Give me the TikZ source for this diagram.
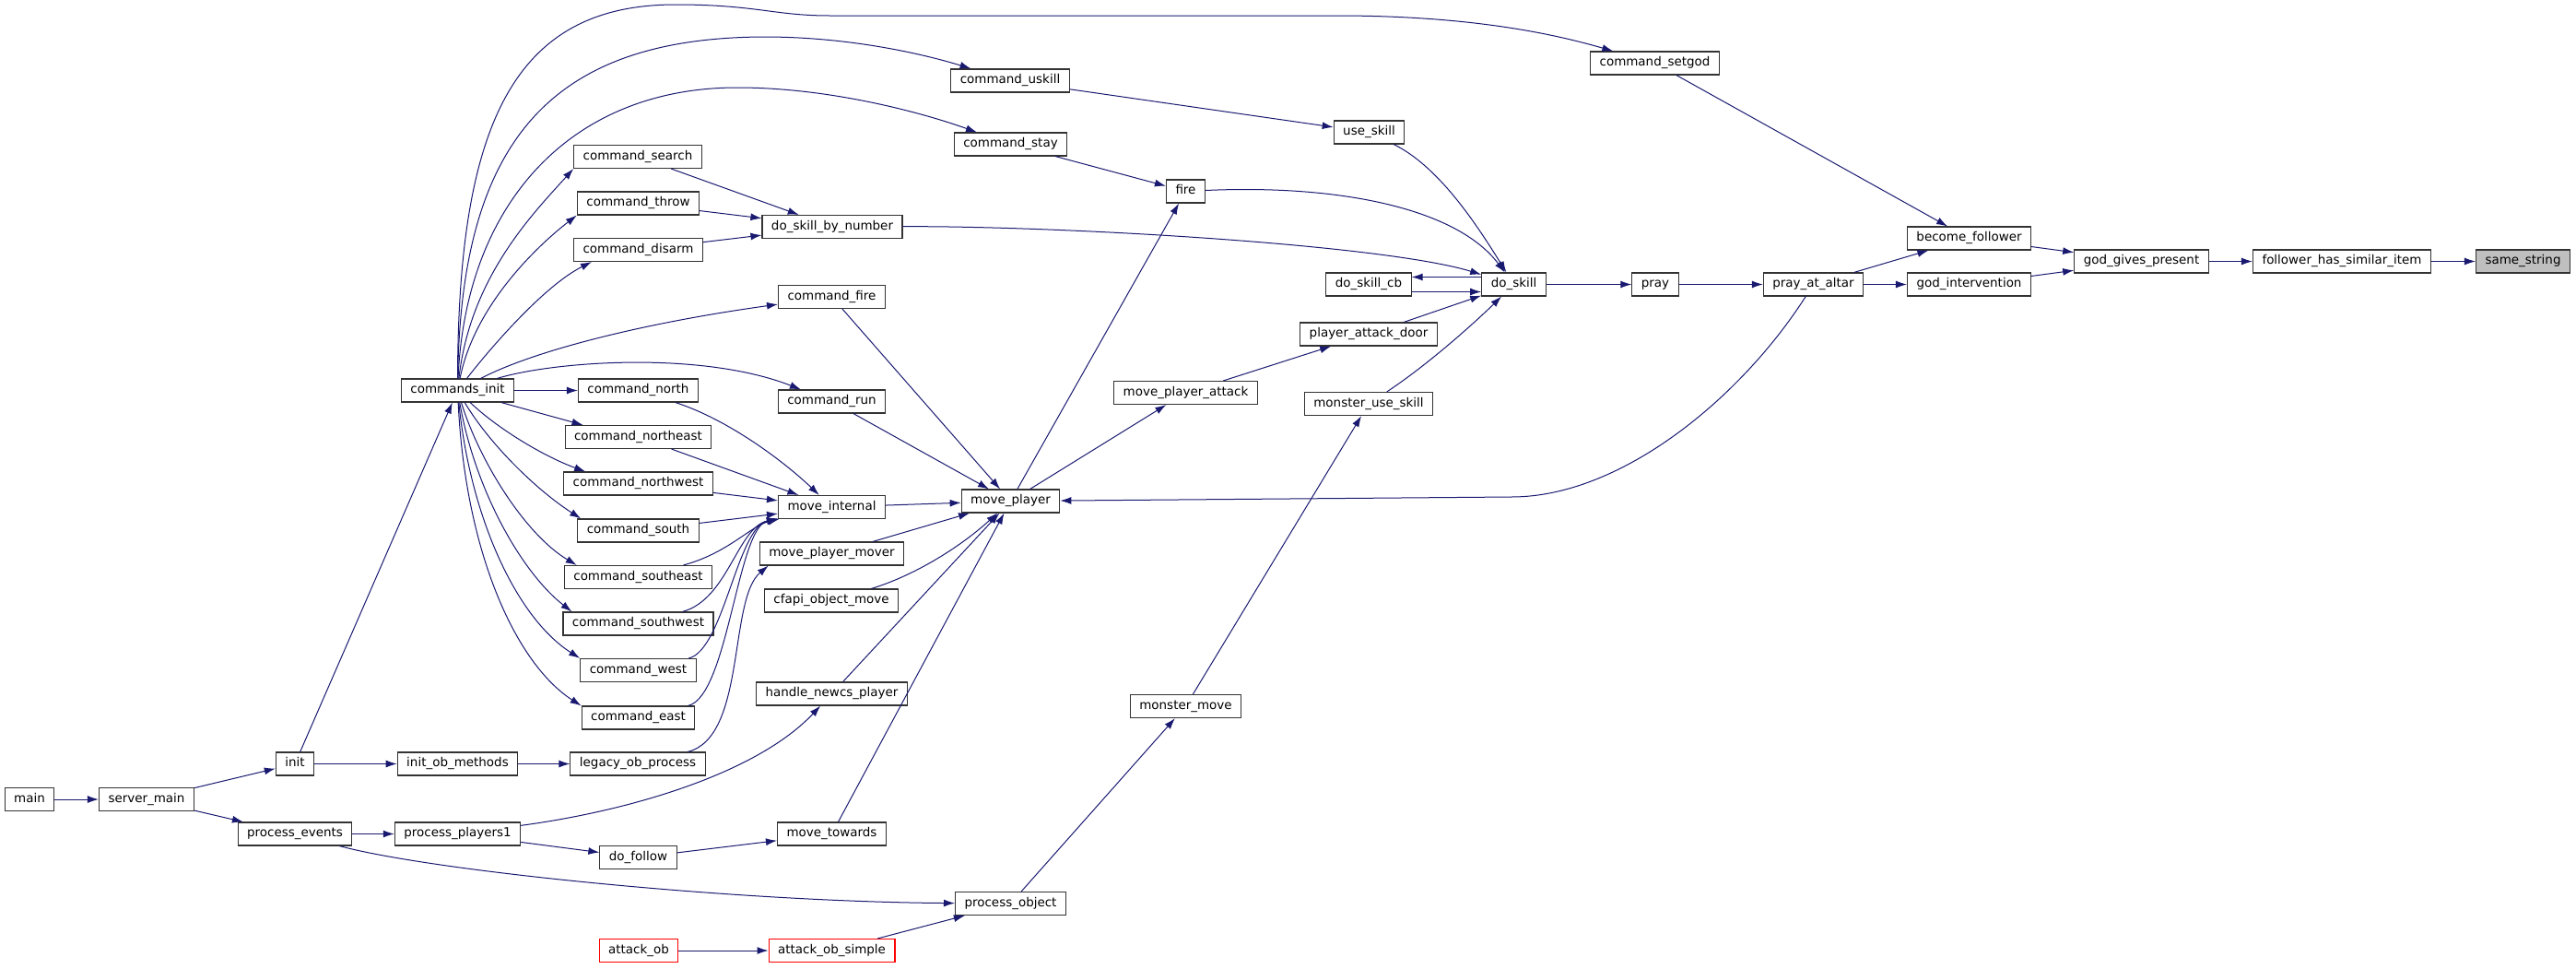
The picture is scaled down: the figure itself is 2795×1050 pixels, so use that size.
\documentclass[tikz,border=0pt]{standalone}
\usepackage{fontspec}
\setmainfont{DejaVu Sans}
\usetikzlibrary{arrows.meta}
\definecolor{e1}{HTML}{191970}
\definecolor{g1}{HTML}{BFBFBF}
\definecolor{r1}{HTML}{FF0000}

\begin{document}
\begin{tikzpicture}[x=0.5pt,y=-0.5pt,
	fn/.style={draw=black!80,line width=0.55pt,fill=white,inner xsep=5pt,inner ysep=0pt,minimum height=12.5pt,text height=4.9pt,text depth=1.6pt,font=\fontsize{6.73pt}{8pt}\selectfont},
	trunc/.style={fn,draw=r1},
	cur/.style={fn,fill=g1},
	call/.style={-{Latex[length=6pt,width=4pt]},draw=e1,line width=0.5pt}]
	\useasboundingbox (0,0) rectangle (2795,1050);
	\begin{scope}
	\node [fn] (main) at (32,867) {main};
	\node [fn] (srvmain) at (159,867) {server\_main};
	\node [fn] (init) at (320,828.5) {init};
	\node [fn] (procev) at (320,904.5) {process\_events};
	\node [fn] (initob) at (496.5,828.5) {init\_ob\_methods};
	\node [fn] (procpl) at (496.5,904.5) {process\_players1};
	\node [fn] (cmdinit) at (496.5,423.5) {commands\_init};
	\node [fn] (legacy) at (692,828.5) {legacy\_ob\_process};
	\node [fn] (dofollow) at (692.5,930) {do\_follow};
	\node [trunc] (attackob) at (693,1031) {attack\_ob};
	\node [fn] (csearch) at (692,170) {command\_search};
	\node [fn] (cthrow) at (692.5,220.5) {command\_throw};
	\node [fn] (cdisarm) at (692.5,271) {command\_disarm};
	\node [fn] (cnorth) at (692.5,423.5) {command\_north};
	\node [fn] (cne) at (692.5,474) {command\_northeast};
	\node [fn] (cnw) at (692.5,524.5) {command\_northwest};
	\node [fn] (csouth) at (692.5,575.5) {command\_south};
	\node [fn] (cse) at (692.5,626) {command\_southeast};
	\node [fn] (csw) at (692.5,676.5) {command\_southwest};
	\node [fn] (cwest) at (692.5,727) {command\_west};
	\node [fn] (ceast) at (692.5,778.5) {command\_east};
	\node [fn] (cuskill) at (1096,87.5) {command\_uskill};
	\node [fn] (cstay) at (1096.5,156.5) {command\_stay};
	\node [fn] (dsbn) at (903,246) {do\_skill\_by\_number};
	\node [fn] (cfire) at (902.5,322) {command\_fire};
	\node [fn] (crun) at (902.5,435.5) {command\_run};
	\node [fn] (minternal) at (902.5,550) {move\_internal};
	\node [fn] (mpmover) at (902.5,600.5) {move\_player\_mover};
	\node [fn] (cfapi) at (902,651.5) {cfapi\_object\_move};
	\node [fn] (newcs) at (902.5,752.5) {handle\_newcs\_player};
	\node [fn] (mtowards) at (902.5,904.5) {move\_towards};
	\node [trunc] (aosimple) at (902.5,1031) {attack\_ob\_simple};
	\node [fn] (fire) at (1286.5,207.5) {fire};
	\node [fn] (mplayer) at (1096.5,543.5) {move\_player};
	\node [fn] (procob) at (1096.5,980) {process\_object};
	\node [fn] (mpattack) at (1286.5,426) {move\_player\_attack};
	\node [fn] (mmove) at (1286.5,766) {monster\_move};
	\node [fn] (useskill) at (1485.5,143.5) {use\_skill};
	\node [fn] (dscb) at (1485,308.5) {do\_skill\_cb};
	\node [fn] (padoor) at (1485,362.5) {player\_attack\_door};
	\node [fn] (muskill) at (1485,438) {monster\_use\_skill};
	\node [fn] (doskill) at (1642.5,308.5) {do\_skill};
	\node [fn] (pray) at (1796,308.5) {pray};
	\node [fn] (altar) at (1967.5,308.5) {pray\_at\_altar};
	\node [fn] (setgod) at (1795.5,68.5) {command\_setgod};
	\node [fn] (follower) at (2136.5,258.5) {become\_follower};
	\node [fn] (interv) at (2136.5,308.5) {god\_intervention};
	\node [fn] (present) at (2323.5,283.5) {god\_gives\_present};
	\node [fn] (similar) at (2541,283.5) {follower\_has\_similar\_item};
	\node [cur] (same) at (2737.5,283.5) {same\_string};

	\draw [call] (main) -- (srvmain);
	\draw [call] (srvmain) -- (init);
	\draw [call] (srvmain) -- (procev);
	\draw [call] (init) -- (cmdinit);
	\draw [call] (init) -- (initob);
	\draw [call] (initob) -- (legacy);
	\draw [call] (procev) -- (procpl);
	\draw [call] (procev) .. controls (470,945) and (800,978) .. (procob);
	\draw [call] (procpl) .. controls (680,880) and (820,840) .. (newcs);
	\draw [call] (procpl) -- (dofollow);
	\draw [call] (dofollow) -- (mtowards);
	\draw [call] (attackob) -- (aosimple);
	\draw [call] (aosimple) -- (procob);
	\draw [call] (legacy) .. controls (810,800) and (790,650) .. ([xshift=5pt]mpmover.south west);
	% commands_init
	\draw [call] (cmdinit) .. controls (497,130) and (560,5) .. (733,5) .. controls (820,5) and (840,17) .. (900,17) -- (1450,17) .. controls (1600,17) and (1690,38) .. (setgod);
	\draw [call] (cmdinit) .. controls (500,150) and (600,41) .. (829,40) .. controls (920,40) and (1000,58) .. (cuskill);
	\draw [call] (cmdinit) .. controls (505,220) and (620,95) .. (800,95) .. controls (900,95) and (1000,122) .. (cstay);
	\draw [call] (cmdinit) .. controls (510,300) and (580,230) .. (csearch.south west);
	\draw [call] (cmdinit) .. controls (515,330) and (585,265) .. (cthrow.south west);
	\draw [call] (cmdinit) .. controls (530,380) and (590,310) .. ([xshift=10pt]cdisarm.south west);
	\draw [call] (cmdinit) .. controls (580,380) and (700,350) .. (cfire);
	\draw [call] (cmdinit) .. controls (600,392) and (760,380) .. (crun);
	\draw [call] (cmdinit) -- (cnorth);
	\draw [call] (cmdinit) -- ([xshift=10pt]cne.north west);
	\draw [call] (cmdinit) .. controls (540,465) and (590,495) .. ([xshift=12pt]cnw.north west);
	\draw [call] (cmdinit) .. controls (530,480) and (580,530) .. ([xshift=2pt]csouth.north west);
	\draw [call] (cmdinit) .. controls (520,500) and (570,580) .. ([xshift=7pt]cse.north west);
	\draw [call] (cmdinit) .. controls (515,530) and (565,620) .. ([xshift=5pt]csw.north west);
	\draw [call] (cmdinit) .. controls (510,560) and (560,670) .. (cwest.north west);
	\draw [call] (cmdinit) .. controls (505,600) and (560,720) .. (ceast.north west);
	% move_internal
	\draw [call] (cnorth) .. controls (790,455) and (850,500) .. (minternal);
	\draw [call] (cne) -- (minternal);
	\draw [call] (cnw) -- (minternal);
	\draw [call] (csouth) -- (minternal);
	\draw [call] (cse) .. controls (790,600) and (815,570) .. (minternal);
	\draw [call] (csw) .. controls (790,650) and (800,572) .. (minternal);
	\draw [call] (cwest) .. controls (785,705) and (800,572) .. (minternal);
	\draw [call] (ceast) .. controls (790,755) and (800,572) .. (minternal);
	% move_player
	\draw [call] (minternal) -- (mplayer);
	\draw [call] (mpmover) -- (mplayer);
	\draw [call] (cfapi) .. controls (990,625) and (1040,595) .. (mplayer);
	\draw [call] (newcs) -- (mplayer);
	\draw [call] (mtowards) -- (mplayer);
	\draw [call] (cfire) -- (mplayer);
	\draw [call] (crun) -- (mplayer);
	\draw [call] (altar) .. controls (1890,430) and (1760,539) .. (1640,539) -- (mplayer);
	\draw [call] (mplayer) -- (fire);
	\draw [call] (mplayer) -- (mpattack);
	\draw [call] (mpattack) -- (padoor);
	\draw [call] (procob) -- (mmove);
	\draw [call] (mmove) -- (muskill);
	% do_skill
	\draw [call] (csearch) -- (dsbn);
	\draw [call] (cthrow) -- (dsbn);
	\draw [call] (cdisarm) -- (dsbn);
	\draw [call] (cuskill) -- (useskill);
	\draw [call] (cstay) -- (fire);
	\draw [call] (dsbn) .. controls (1150,245) and (1500,265) .. (doskill);
	\draw [call] (useskill) .. controls (1560,180) and (1600,240) .. (doskill);
	\draw [call] (fire) .. controls (1450,200) and (1580,225) .. (doskill);
	\draw [call] ([yshift=4pt]doskill.west) -- ([yshift=4pt]dscb.east);
	\draw [call] ([yshift=-4pt]dscb.east) -- ([yshift=-4pt]doskill.west);
	\draw [call] (padoor) -- (doskill);
	\draw [call] (muskill) .. controls (1550,395) and (1600,350) .. (doskill);
	\draw [call] (doskill) -- (pray);
	\draw [call] (pray) -- (altar);
	\draw [call] (altar) -- (follower);
	\draw [call] (altar) -- (interv);
	\draw [call] (setgod) -- (follower);
	\draw [call] (follower) -- (present);
	\draw [call] (interv) -- (present);
	\draw [call] (present) -- (similar);
	\draw [call] (similar) -- (same);
	\end{scope}
\end{tikzpicture}
\end{document}
